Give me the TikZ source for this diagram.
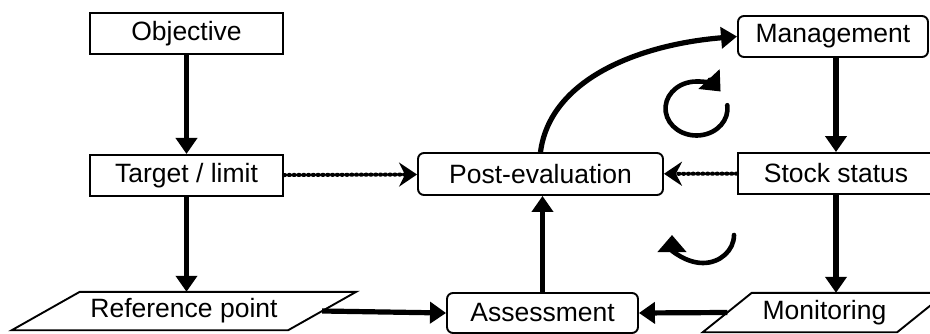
\documentclass[tikz,border=0pt]{standalone}
\usepackage{fontspec}
\setmainfont{Liberation Sans}
\usetikzlibrary{arrows.meta,positioning,calc}

\begin{document}
\begin{tikzpicture}[x=1pt,y=-1pt,font=\fontsize{26.5}{32}\selectfont,
  box/.style={draw,line width=1.9pt,inner sep=0pt,minimum height=41pt},
  roundbox/.style={box,rounded corners=6pt},
  slantbox/.style={inner sep=0pt,minimum height=38pt},
  link/.style={-{Triangle[length=16pt,width=21pt]},line width=5.2pt},
  hint/.style={-{Stealth[length=18pt,width=24pt,inset=6pt]},line width=4pt,dash pattern=on 1.2pt off 3.6pt,line cap=round},
  turn/.style={-{Triangle[length=17pt,width=28pt]},line width=4.6pt,line cap=round}]
\useasboundingbox (0,0) rectangle (930,334);

%% Left column
\node (Objective) [box,minimum width=193pt] at (186.5,33.5) {Objective};
\node (Target) [box,minimum width=193pt,below=99pt of Objective] {Target / limit};
\node (Ref) [slantbox,minimum width=276pt] at (184,311) {Reference point};
\draw[line width=1.9pt] ($(Ref.north west)+(34,0)$) -- ($(Ref.north east)+(34,0)$)
      -- ($(Ref.south east)-(34,0)$) -- ($(Ref.south west)-(34,0)$) -- cycle;

%% Middle column
\node (Post) [roundbox,minimum width=245pt,minimum height=42pt] at (540.5,174) {Post-evaluation};
\node (Assess) [roundbox,minimum width=191pt,minimum height=40pt] at (542.5,313) {Assessment};

%% Right column
\node (Mgmt) [roundbox,minimum width=190pt] at (833,36.5) {Management};
\node (Stock) [box,minimum width=196pt] at (836,173.5) {Stock status};
\node (Mon) [slantbox,minimum width=194pt,minimum height=39pt] at (824.5,312.5) {Monitoring};
\draw[line width=1.9pt] ($(Mon.north west)+(24.5,0)$) -- ($(Mon.north east)+(24.5,0)$)
      -- ($(Mon.south east)-(24.5,0)$) -- ($(Mon.south west)-(24.5,0)$) -- cycle;

%% Solid links
\draw[link] (Objective) -- (Target);
\draw[link] (Target.south) -- (Target.south |- Ref.north);
\draw[link] (Ref.east) -- (Assess.west);
\draw[link] (Mon.west) -- (Assess.east);
\draw[link] (Assess.north) -- (Assess.north |- Post.south);
\draw[link] (Post.north) .. controls +(9.5,-73) and +(-98,8) .. (Mgmt.west);
\draw[link] (Stock.north |- Mgmt.south) -- (Stock.north);
\draw[link] (Stock.south) -- (Stock.south |- Mon.north);

%% Dotted links
\draw[hint] (Target) -- (Post);
\draw[hint] (Stock) -- (Post);

%% Cycle marks
\coordinate (TopTurn) at (696.5,108.5);
\draw[turn] ($(TopTurn)+(-7:31 and 27)$) arc[start angle=-7,end angle=321,x radius=31,y radius=27];
\coordinate (LowTurn) at (703,235);
\draw[turn] ($(LowTurn)+(0:31 and 28)$) arc[start angle=0,end angle=180,x radius=31,y radius=28];
\end{tikzpicture}
\end{document}
